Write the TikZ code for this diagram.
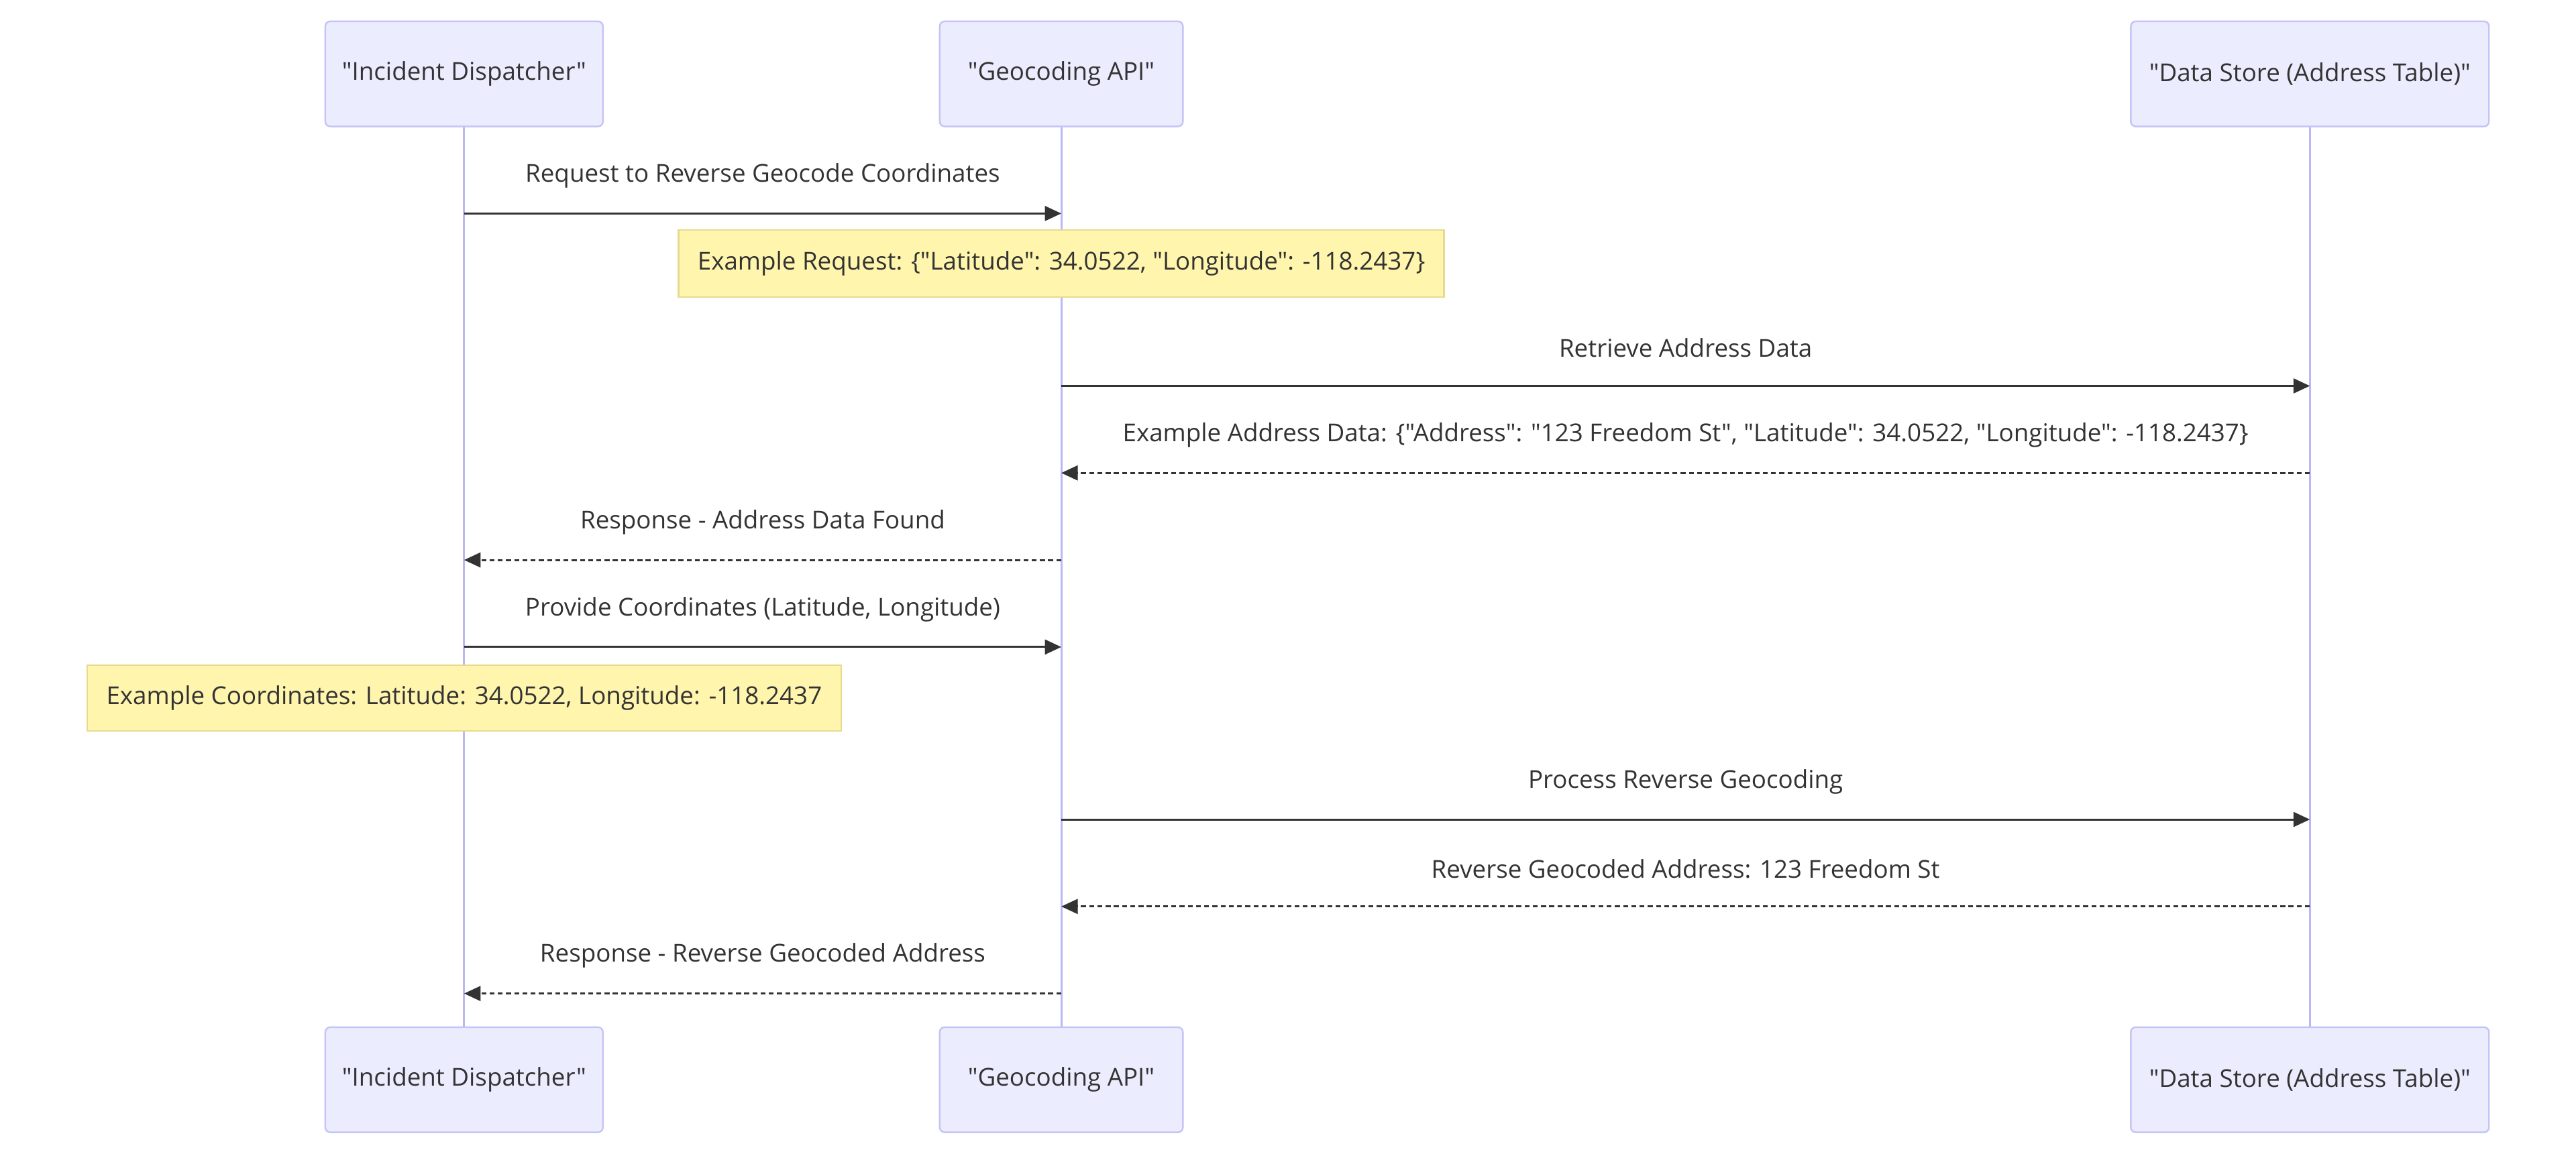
\documentclass[tikz,border=0pt]{standalone}
\usepackage{fontspec}
\setmainfont{Open Sans}[Ligatures=TeXOff]
\usetikzlibrary{arrows.meta}
\definecolor{actorfill}{HTML}{ECECFF}
\definecolor{actorline}{HTML}{C4C4F6}
\definecolor{lifeline}{HTML}{B8B8F6}
\definecolor{notefill}{HTML}{FFF5AD}
\definecolor{noteline}{HTML}{E6DA8E}
\definecolor{ink}{HTML}{333333}

\begin{document}
\begin{tikzpicture}[x=1pt,y=1pt,
    actor/.style={draw=actorline,fill=actorfill,line width=1pt,rounded corners=3pt,
      minimum height=64pt,inner sep=0pt,text=ink,font=\fontsize{15}{18}\selectfont},
    note/.style={draw=noteline,fill=notefill,line width=1pt,inner sep=0pt,
      text=ink,font=\fontsize{15}{18}\selectfont},
    lbl/.style={inner sep=0pt,text=ink,font=\fontsize{15}{18}\selectfont},
    life/.style={draw=lifeline,line width=1.2pt},
    msg/.style={draw=ink,line width=1.2pt,-{Triangle[length=10pt,width=9pt]}},
    reply/.style={msg,dash pattern=on 3pt off 2pt}]
       \useasboundingbox (0,0) rectangle (1568,-700);
       % Teilnehmer oben und unten
       \node[actor,minimum width=169pt] (dispT) at (282.5,-45) {"Incident Dispatcher"};
       \node[actor,minimum width=148pt] (geoT) at (646,-45) {"Geocoding API"};
       \node[actor,minimum width=218pt] (storeT) at (1406,-45) {"Data Store (Address Table)"};
       \node[actor,minimum width=169pt] (dispB) at (282.5,-657.5) {"Incident Dispatcher"};
       \node[actor,minimum width=148pt] (geoB) at (646,-657.5) {"Geocoding API"};
       \node[actor,minimum width=218pt] (storeB) at (1406,-657.5) {"Data Store (Address Table)"};
       % Lebenslinien
       \draw[life] (dispT) -- (dispB);
       \draw[life] (geoT) -- (geoB);
       \draw[life] (storeT) -- (storeB);
       \foreach \n/\y in {1/130,2/235,3/288,4/341,5/394,6/499,7/552,8/605} {
         \coordinate (d\n) at (282.5,-\y);
         \coordinate (g\n) at (646,-\y);
         \coordinate (s\n) at (1406,-\y);
       }
       % Notizen
       \node[note,minimum width=466pt,minimum height=41pt] (req) at (646,-160.5)
         {Example Request: \{"Latitude": 34.0522, "Longitude": -118.2437\}};
       \node[note,minimum width=459pt,minimum height=40pt] (coords) at (282.5,-425)
         {Example Coordinates: Latitude: 34.0522, Longitude: -118.2437};
       % Nachrichten
       \draw[msg] (d1) -- (g1) node[lbl,midway,yshift=23pt] (l1) {Request to Reverse Geocode Coordinates};
       \draw[msg] (g2) -- (s2) node[lbl,midway,yshift=23pt] (l2) {Retrieve Address Data};
       \draw[reply] (s3) -- (g3) node[lbl,midway,yshift=23pt] (l3)
         {Example Address Data: \{"Address": "123 Freedom St", "Latitude": 34.0522, "Longitude": -118.2437\}};
       \draw[reply] (g4) -- (d4) node[lbl,midway,yshift=23pt] (l4) {Response - Address Data Found};
       \draw[msg] (d5) -- (g5) node[lbl,midway,yshift=23pt] (l5) {Provide Coordinates (Latitude, Longitude)};
       \draw[msg] (g6) -- (s6) node[lbl,midway,yshift=23pt] (l6) {Process Reverse Geocoding};
       \draw[reply] (s7) -- (g7) node[lbl,midway,yshift=23pt] (l7) {Reverse Geocoded Address: 123 Freedom St};
       \draw[reply] (g8) -- (d8) node[lbl,midway,yshift=23pt] (l8) {Response - Reverse Geocoded Address};
\end{tikzpicture}
\end{document}
